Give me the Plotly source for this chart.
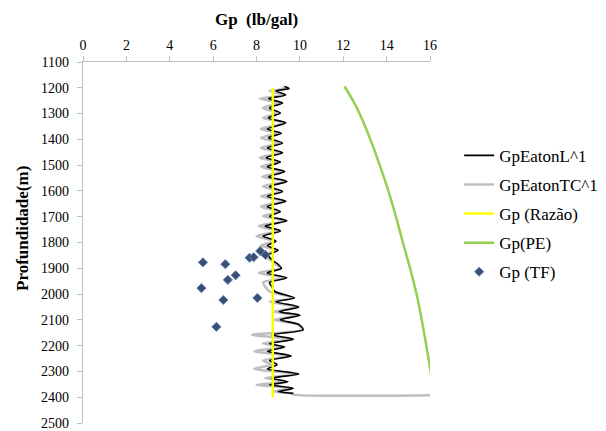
import plotly.graph_objects as go

# ---- data ----
depth_eaton = [1195, 1203, 1212, 1228, 1242, 1259, 1278, 1298, 1317, 1336, 1360, 1376, 1394, 1414,
               1433, 1452, 1471, 1488, 1506, 1525, 1545, 1563, 1583, 1602, 1621, 1640, 1660, 1680,
               1698, 1716, 1736, 1755, 1775, 1795, 1812, 1830, 1848, 1866, 1885, 1900, 1918, 1937,
               1955, 1971, 1990, 2015, 2030, 2050, 2068, 2082, 2100, 2118, 2138, 2158, 2175, 2192,
               2205, 2222, 2240, 2258, 2274, 2290, 2310, 2326, 2340, 2352, 2365, 2378, 2385]
gp_eaton_l = [9.3, 9.5, 8.9, 9.35, 8.55, 9.2, 8.6, 9.1, 8.55, 9.35, 8.5, 9.15, 8.55, 9.2,
              8.5, 9.2, 8.45, 9.1, 8.5, 9.3, 8.55, 9.4, 8.6, 9.2, 8.5, 9.35, 8.5, 9.1,
              8.6, 9.4, 8.4, 9.1, 8.3, 8.9, 8.5, 9.0, 8.55, 8.7, 9.0, 9.15, 8.5, 9.4,
              8.6, 8.7, 8.85, 9.75, 8.9, 9.95, 9.05, 10.0, 9.1, 9.95, 10.15, 8.7, 9.7, 8.6,
              9.3, 8.5, 9.6, 8.6, 8.95, 8.5, 9.95, 8.7, 9.45, 8.6, 9.7, 9.0, 9.7]

depth_eaton_tc = depth_eaton + [2390, 2392]
gp_eaton_tc = [9.2, 9.4, 8.6, 9.25, 8.15, 9.05, 8.3, 8.95, 8.3, 9.3, 8.2, 9.0, 8.2, 9.05,
               8.2, 9.05, 8.15, 8.95, 8.2, 9.2, 8.25, 9.35, 8.3, 9.1, 8.2, 9.3, 8.2, 9.0,
               8.3, 9.35, 8.1, 9.0, 8.0, 8.8, 8.2, 8.9, 8.3, 8.6, 8.9, 9.1, 8.1, 9.35,
               8.3, 8.4, 8.6, 9.7, 8.6, 9.9, 8.8, 9.95, 8.8, 9.9, 10.1, 7.8, 9.6, 8.3,
               9.2, 7.9, 9.5, 8.3, 8.7, 7.9, 9.9, 8.4, 9.35, 8.0, 9.6, 8.8, 9.6, 9.7, 16.0]

depth_razao = [1200, 2400]
gp_razao = [8.75, 8.75]

depth_pe = [1195, 1250, 1300, 1400, 1500, 1600, 1700, 1800, 1900, 2000, 2100, 2200, 2300, 2400]
gp_pe = [12.06, 12.45, 12.75, 13.25, 13.68, 14.08, 14.43, 14.75, 15.08, 15.38, 15.62, 15.83, 16.03, 16.2]

depth_tf = [1877, 1884, 1977, 1945, 1927, 2023, 2127, 1859, 1857, 1833, 1848, 2015]
gp_tf = [5.53, 6.56, 5.46, 6.68, 7.04, 6.47, 6.15, 7.68, 7.87, 8.17, 8.41, 8.04]

FONT = "Times New Roman, Liberation Serif, serif"

fig = go.Figure()
fig.add_trace(go.Scatter(x=gp_eaton_tc, y=depth_eaton_tc, mode="lines", name="GpEatonTC^1",
                         line=dict(color="#bfbfbf", width=2.5, shape="spline", smoothing=0.75),
                         legendrank=2, legendgroup="b"))
fig.add_trace(go.Scatter(x=gp_eaton_l, y=depth_eaton, mode="lines", name="GpEatonL^1",
                         line=dict(color="#000000", width=1.6, shape="spline", smoothing=0.75),
                         legendrank=1, legendgroup="a"))
fig.add_trace(go.Scatter(x=gp_razao, y=depth_razao, mode="lines", name="Gp (Razão)",
                         line=dict(color="#ffff00", width=2.5), legendrank=3, legendgroup="c"))
fig.add_trace(go.Scatter(x=gp_pe, y=depth_pe, mode="lines", name="Gp(PE)",
                         line=dict(color="#92d050", width=2.5, shape="spline"),
                         legendrank=4, legendgroup="d"))
fig.add_trace(go.Scatter(x=gp_tf, y=depth_tf, mode="markers", name="Gp (TF)",
                         marker=dict(symbol="diamond", size=7, color="#3b4f72",
                                     line=dict(color="#5b7fb5", width=1)),
                         legendrank=5, legendgroup="e"))

fig.update_layout(
    width=606, height=423,
    margin=dict(l=75, r=184, t=54, b=8),
    paper_bgcolor="white", plot_bgcolor="white",
    font=dict(family=FONT, size=14, color="#000000"),
    showlegend=True,
    legend=dict(x=1.084, y=0.79, xanchor="left", yanchor="top",
                font=dict(family=FONT, size=17), tracegroupgap=4,
                bgcolor="rgba(0,0,0,0)"),
    xaxis=dict(side="top", range=[0, 16], dtick=2, showgrid=False, zeroline=False,
               showline=True, linecolor="#bfbfbf", linewidth=1.2,
               ticks="outside", ticklen=5, tickcolor="#bfbfbf", automargin=False,
               title=dict(text="<b>Gp  (lb/gal)</b>", font=dict(size=17), standoff=8),
               tickfont=dict(size=14)),
    yaxis=dict(range=[2500, 1100], dtick=100, showgrid=False, zeroline=False,
               showline=True, linecolor="#bfbfbf", linewidth=1.2,
               ticks="outside", ticklen=5, tickcolor="#bfbfbf", automargin=False,
               ticklabelstandoff=5,
               tickfont=dict(size=14)),
    annotations=[dict(text="<b>Profundidade(m)</b>", xref="paper", yref="paper",
                      x=-0.176, y=0.54, xanchor="center", yanchor="middle",
                      textangle=-90, showarrow=False, font=dict(family=FONT, size=17))],
)

fig.write_html("out.html")
